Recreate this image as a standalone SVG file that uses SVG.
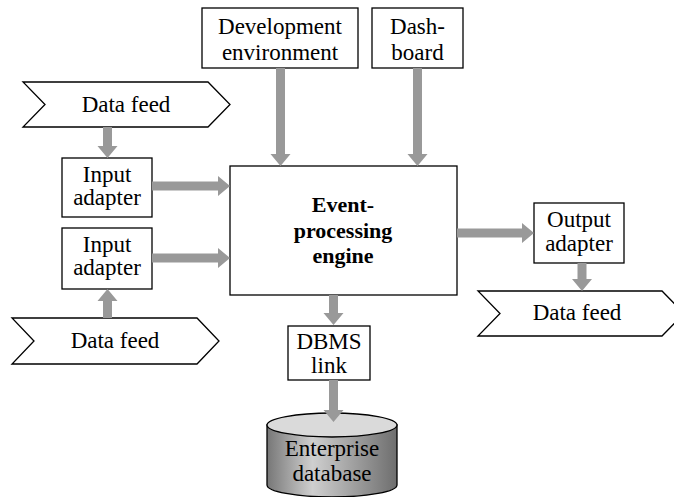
<svg xmlns="http://www.w3.org/2000/svg" width="674" height="497" viewBox="0 0 674 497">
<defs>
<style>
.box{fill:#fff;stroke:#000;stroke-width:1.3}
.t{font-family:"Liberation Serif","Times New Roman",serif;font-size:23px;fill:#000;text-anchor:middle}
.b{font-weight:bold;font-size:22px}
.arr{fill:#999}
</style>
<linearGradient id="cyl" x1="0" y1="0" x2="1" y2="0">
<stop offset="0" stop-color="#777"/>
<stop offset="0.35" stop-color="#cfcfcf"/>
<stop offset="1" stop-color="#6e6e6e"/>
</linearGradient>
</defs>
<rect width="674" height="497" fill="#fff"/>
<g id="feed1">
<polygon class="box" points="23,82 208,82 230,104.5 208,127 23,127 45,104.5"/>
<text class="t" x="126" y="112">Data feed</text>
</g>
<g id="feed2">
<polygon class="box" points="12,318 197,318 219,341 197,364 12,364 34,341"/>
<text class="t" x="115" y="348">Data feed</text>
</g>
<g id="feed3">
<polygon class="box" points="478,291 662,291 684,313.5 662,336 478,336 500,313.5"/>
<text class="t" x="577" y="320">Data feed</text>
</g>
<g id="input1">
<rect class="box" x="62" y="158" width="90" height="59"/>
<text class="t" x="107" y="182">Input</text>
<text class="t" x="107" y="205">adapter</text>
</g>
<g id="input2">
<rect class="box" x="62" y="228" width="90" height="61"/>
<text class="t" x="107" y="252">Input</text>
<text class="t" x="107" y="275">adapter</text>
</g>
<g id="dev">
<rect class="box" x="202" y="8" width="156" height="60"/>
<text class="t" x="280" y="34">Development</text>
<text class="t" x="280" y="60">environment</text>
</g>
<g id="dash">
<rect class="box" x="372" y="8" width="91" height="60"/>
<text class="t" x="417.5" y="34">Dash-</text>
<text class="t" x="417.5" y="60">board</text>
</g>
<g id="engine">
<rect class="box" x="230" y="166" width="227" height="129"/>
<text class="t b" x="343" y="212">Event-</text>
<text class="t b" x="343" y="238">processing</text>
<text class="t b" x="343" y="263">engine</text>
</g>
<g id="output">
<rect class="box" x="534" y="203" width="90" height="60"/>
<text class="t" x="579" y="227">Output</text>
<text class="t" x="579" y="251">adapter</text>
</g>
<g id="dbms">
<rect class="box" x="288" y="326" width="82" height="54"/>
<text class="t" x="329" y="349">DBMS</text>
<text class="t" x="329" y="373">link</text>
</g>
<g id="database">
<path d="M267,425 L267,485 A65,12 0 0 0 397,485 L397,425 Z" fill="url(#cyl)" stroke="#000" stroke-width="1.3"/>
<ellipse cx="332" cy="425" rx="65" ry="12" fill="#dadada" stroke="#000" stroke-width="1.3"/>
<text class="t" x="332" y="456">Enterprise</text>
<text class="t" x="332" y="481">database</text>
</g>
<g id="connectors">
<polygon class="arr" points="103,127 112,127 112,146 117.5,146 107.5,158 97.5,146 103,146"/>
<polygon class="arr" points="152,181.5 218,181.5 218,176 230,186 218,196 218,190.5 152,190.5"/>
<polygon class="arr" points="152,253.5 218,253.5 218,248 230,258 218,268 218,262.5 152,262.5"/>
<polygon class="arr" points="103,318 112,318 112,301 117.5,301 107.5,289 97.5,301 103,301"/>
<polygon class="arr" points="276,68 285,68 285,154 290.5,154 280.5,166 270.5,154 276,154"/>
<polygon class="arr" points="413,68 422,68 422,154 427.5,154 417.5,166 407.5,154 413,154"/>
<polygon class="arr" points="457,228.5 522,228.5 522,223 534,233 522,243 522,237.5 457,237.5"/>
<polygon class="arr" points="577.5,263 586.5,263 586.5,279 592,279 582,291 572,279 577.5,279"/>
<polygon class="arr" points="329,295 338,295 338,313 343.5,313 333.5,325 323.5,313 329,313"/>
<polygon class="arr" points="329,380 338,380 338,410 343.5,410 333.5,422 323.5,410 329,410"/>
</g>
</svg>
